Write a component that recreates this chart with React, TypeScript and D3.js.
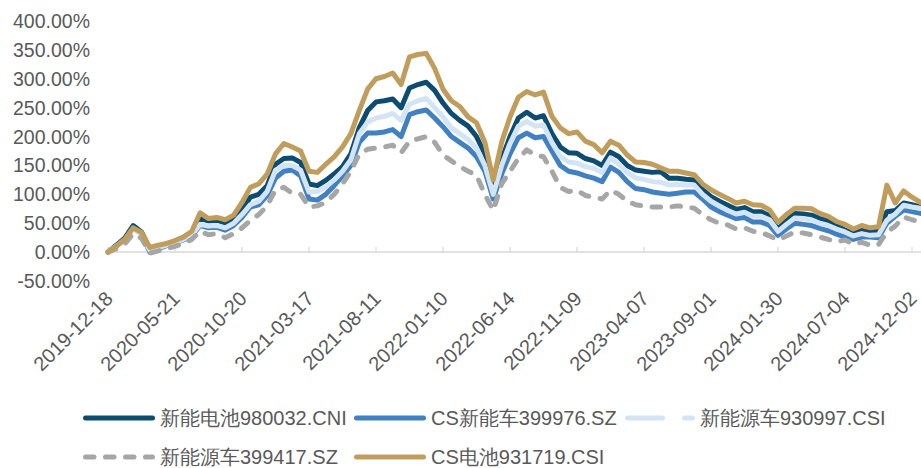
import React from "react";
import * as d3 from "d3";

// ---- data ----
const dateLabels = [
  "2019-12-18", "2020-05-21", "2020-10-20", "2021-03-17", "2021-08-11",
  "2022-01-10", "2022-06-14", "2022-11-09", "2023-04-07", "2023-09-01",
  "2024-01-30", "2024-07-04", "2024-12-02",
];
const yTicks = [-50, 0, 50, 100, 150, 200, 250, 300, 350, 400];
const STEPS_PER_LABEL = 8;

const seriesNames = [
  "新能电池980032.CNI",
  "CS新能车399976.SZ",
  "新能源车930997.CSI",
  "新能源车399417.SZ",
  "CS电池931719.CSI",
];

// cumulative return (%), sampled every 1/8 of a label interval
const battery980032 = [
  0, 12, 24, 46, 35, 5, 10, 14, 19, 25, 34, 58, 54, 55, 50, 58,
  72, 95, 100, 115, 152, 162, 163, 155, 118, 115, 124, 135, 148, 170, 215, 245,
  260, 262, 265, 250, 284, 290, 294, 280, 258, 240, 228, 218, 200, 170, 110, 160,
  200, 232, 242, 232, 236, 205, 182, 172, 171, 162, 158, 150, 173, 165, 150, 142,
  140, 138, 139, 128, 128, 126, 125, 108, 96, 88, 81, 74, 77, 70, 70, 63,
  40, 54, 67, 66, 64, 58, 54, 46, 38, 33, 38, 35, 36, 70, 72, 85, 82, 78,
];
const csNev399976 = [
  0, 11, 22, 42, 32, 0, 6, 11, 16, 21, 28, 46, 42, 43, 38, 46,
  60, 78, 82, 98, 128, 140, 142, 132, 92, 90, 100, 115, 132, 150, 190, 206,
  206, 208, 212, 200, 238, 243, 246, 232, 217, 200, 190, 180, 165, 140, 92, 135,
  170, 198, 206, 198, 200, 175, 150, 140, 137, 132, 128, 122, 147, 138, 122, 110,
  108, 104, 102, 100, 102, 104, 104, 92, 78, 70, 64, 58, 60, 52, 52, 46,
  29, 40, 50, 48, 46, 41, 37, 31, 26, 22, 26, 26, 25, 50, 62, 73, 70, 67,
];
const nev930997 = [
  0, 10, 21, 40, 30, 3, 8, 12, 17, 22, 30, 48, 45, 46, 42, 50,
  65, 82, 88, 105, 142, 150, 150, 142, 104, 105, 113, 125, 140, 160, 205, 225,
  232, 235, 240, 228, 256, 262, 266, 250, 234, 215, 205, 195, 180, 150, 100, 150,
  188, 218, 226, 218, 220, 190, 166, 156, 154, 148, 145, 138, 163, 152, 138, 128,
  126, 122, 121, 116, 117, 116, 116, 100, 88, 80, 72, 66, 69, 62, 62, 56,
  36, 48, 59, 58, 56, 50, 46, 40, 35, 28, 32, 29, 30, 55, 66, 81, 78, 76,
];
const nev399417 = [
  0, 6, 14, 32, 24, -2, 2, 6, 10, 15, 22, 36, 30, 32, 25, 32,
  42, 55, 65, 80, 108, 112, 102, 100, 78, 80, 86, 100, 118, 140, 170, 178,
  180, 182, 185, 172, 192, 196, 200, 190, 168, 158, 148, 140, 133, 100, 72, 118,
  140, 162, 177, 168, 165, 140, 112, 105, 107, 98, 95, 92, 107, 100, 88, 82,
  80, 78, 78, 78, 80, 78, 76, 65, 56, 50, 47, 40, 42, 36, 34, 28,
  21, 28, 35, 33, 30, 26, 22, 18, 21, 14, 17, 12, 13, 35, 45, 61, 56, 52,
];
const csBattery931719 = [
  0, 10, 22, 42, 34, 8, 12, 15, 20, 26, 36, 68, 58, 60, 56, 64,
  86, 112, 118, 135, 170, 188, 182, 175, 140, 138, 152, 165, 182, 205, 245, 282,
  300, 304, 310, 290, 338, 342, 344, 318, 282, 262, 252, 234, 224, 190, 125, 190,
  234, 268, 278, 272, 277, 235, 215, 205, 208, 192, 186, 172, 192, 185, 168, 156,
  155, 152, 146, 140, 140, 137, 134, 118, 108, 100, 93, 85, 88, 82, 81, 73,
  52, 65, 76, 76, 75, 67, 62, 53, 48, 40, 46, 42, 44, 116, 85, 106, 95, 86,
];

const seriesValues = [battery980032, csNev399976, nev930997, nev399417, csBattery931719];
const colors = ["#0D4C71", "#4181C2", "#D3E5F5", "#A6A6A6", "#C19D5C"];
const dashes = [null, null, null, "8.5,11.5", null];
const legendDashes = [null, null, "35,22", "8.5,11.5", null];

const W = 921;
const H = 468;
const FONT = "'Liberation Sans', Arial, sans-serif";

export default function App() {
  const x = d3.scaleLinear().domain([0, dateLabels.length - 1]).range([108, 912]);
  const y = d3.scaleLinear().domain([-50, 400]).range([281, 21]);
  const line = d3
    .line<number>()
    .x((_, i) => x(i / STEPS_PER_LABEL))
    .y((d) => y(d))
    .curve(d3.curveLinear);

  const drawOrder = [0, 1, 2, 3, 4];

  const legendPos = [
    { x: 83, y: 418 },
    { x: 354, y: 418 },
    { x: 625, y: 418 },
    { x: 83, y: 457 },
    { x: 354, y: 457 },
  ];
  const legendLineLen = [72, 72, 70, 72, 72];

  return (
    <svg
      width={W}
      height={H}
      style={{ position: "absolute", left: 0, top: 0, background: "#fff" }}
      fontFamily={FONT}
    >
      {/* y axis labels */}
      {yTicks.map((t) => (
        <text
          key={t}
          x={90}
          y={y(t)}
          dy="0.36em"
          textAnchor="end"
          fontSize={19.5}
          fill="#595959"
        >
          {t.toFixed(2) + "%"}
        </text>
      ))}

      {/* zero axis line */}
      <line x1={x(0)} x2={W} y1={y(0)} y2={y(0)} stroke="#D9D9D9" strokeWidth={1.5} />
      {dateLabels.map((_, i) => (
        <line
          key={"tk" + i}
          x1={x(i)}
          x2={x(i)}
          y1={y(0)}
          y2={y(0) - 5}
          stroke="#D9D9D9"
          strokeWidth={1.2}
        />
      ))}

      {/* series */}
      {drawOrder.map((si) => (
        <path
          key={"s" + si}
          d={line(seriesValues[si]) || ""}
          fill="none"
          stroke={colors[si]}
          strokeWidth={5}
          strokeLinejoin="round"
          strokeLinecap="round"
          strokeDasharray={dashes[si] || undefined}
        />
      ))}

      {/* x axis labels */}
      {dateLabels.map((d, i) => (
        <text
          key={d}
          transform={`translate(${x(i) + 6},${300}) rotate(-45)`}
          textAnchor="end"
          fontSize={20}
          fill="#595959"
        >
          {d}
        </text>
      ))}

      {/* legend */}
      {seriesNames.map((name, i) => {
        const p = legendPos[i];
        const len = legendLineLen[i];
        return (
          <g key={name}>
            <line
              x1={p.x + 2.5}
              x2={p.x + len - 2.5}
              y1={p.y}
              y2={p.y}
              stroke={colors[i]}
              strokeWidth={5}
              strokeLinecap="round"
              strokeDasharray={legendDashes[i] || undefined}
            />
            <text x={p.x + len + 5} y={p.y} dy="0.36em" fontSize={20} fill="#595959">
              {name}
            </text>
          </g>
        );
      })}
    </svg>
  );
}
